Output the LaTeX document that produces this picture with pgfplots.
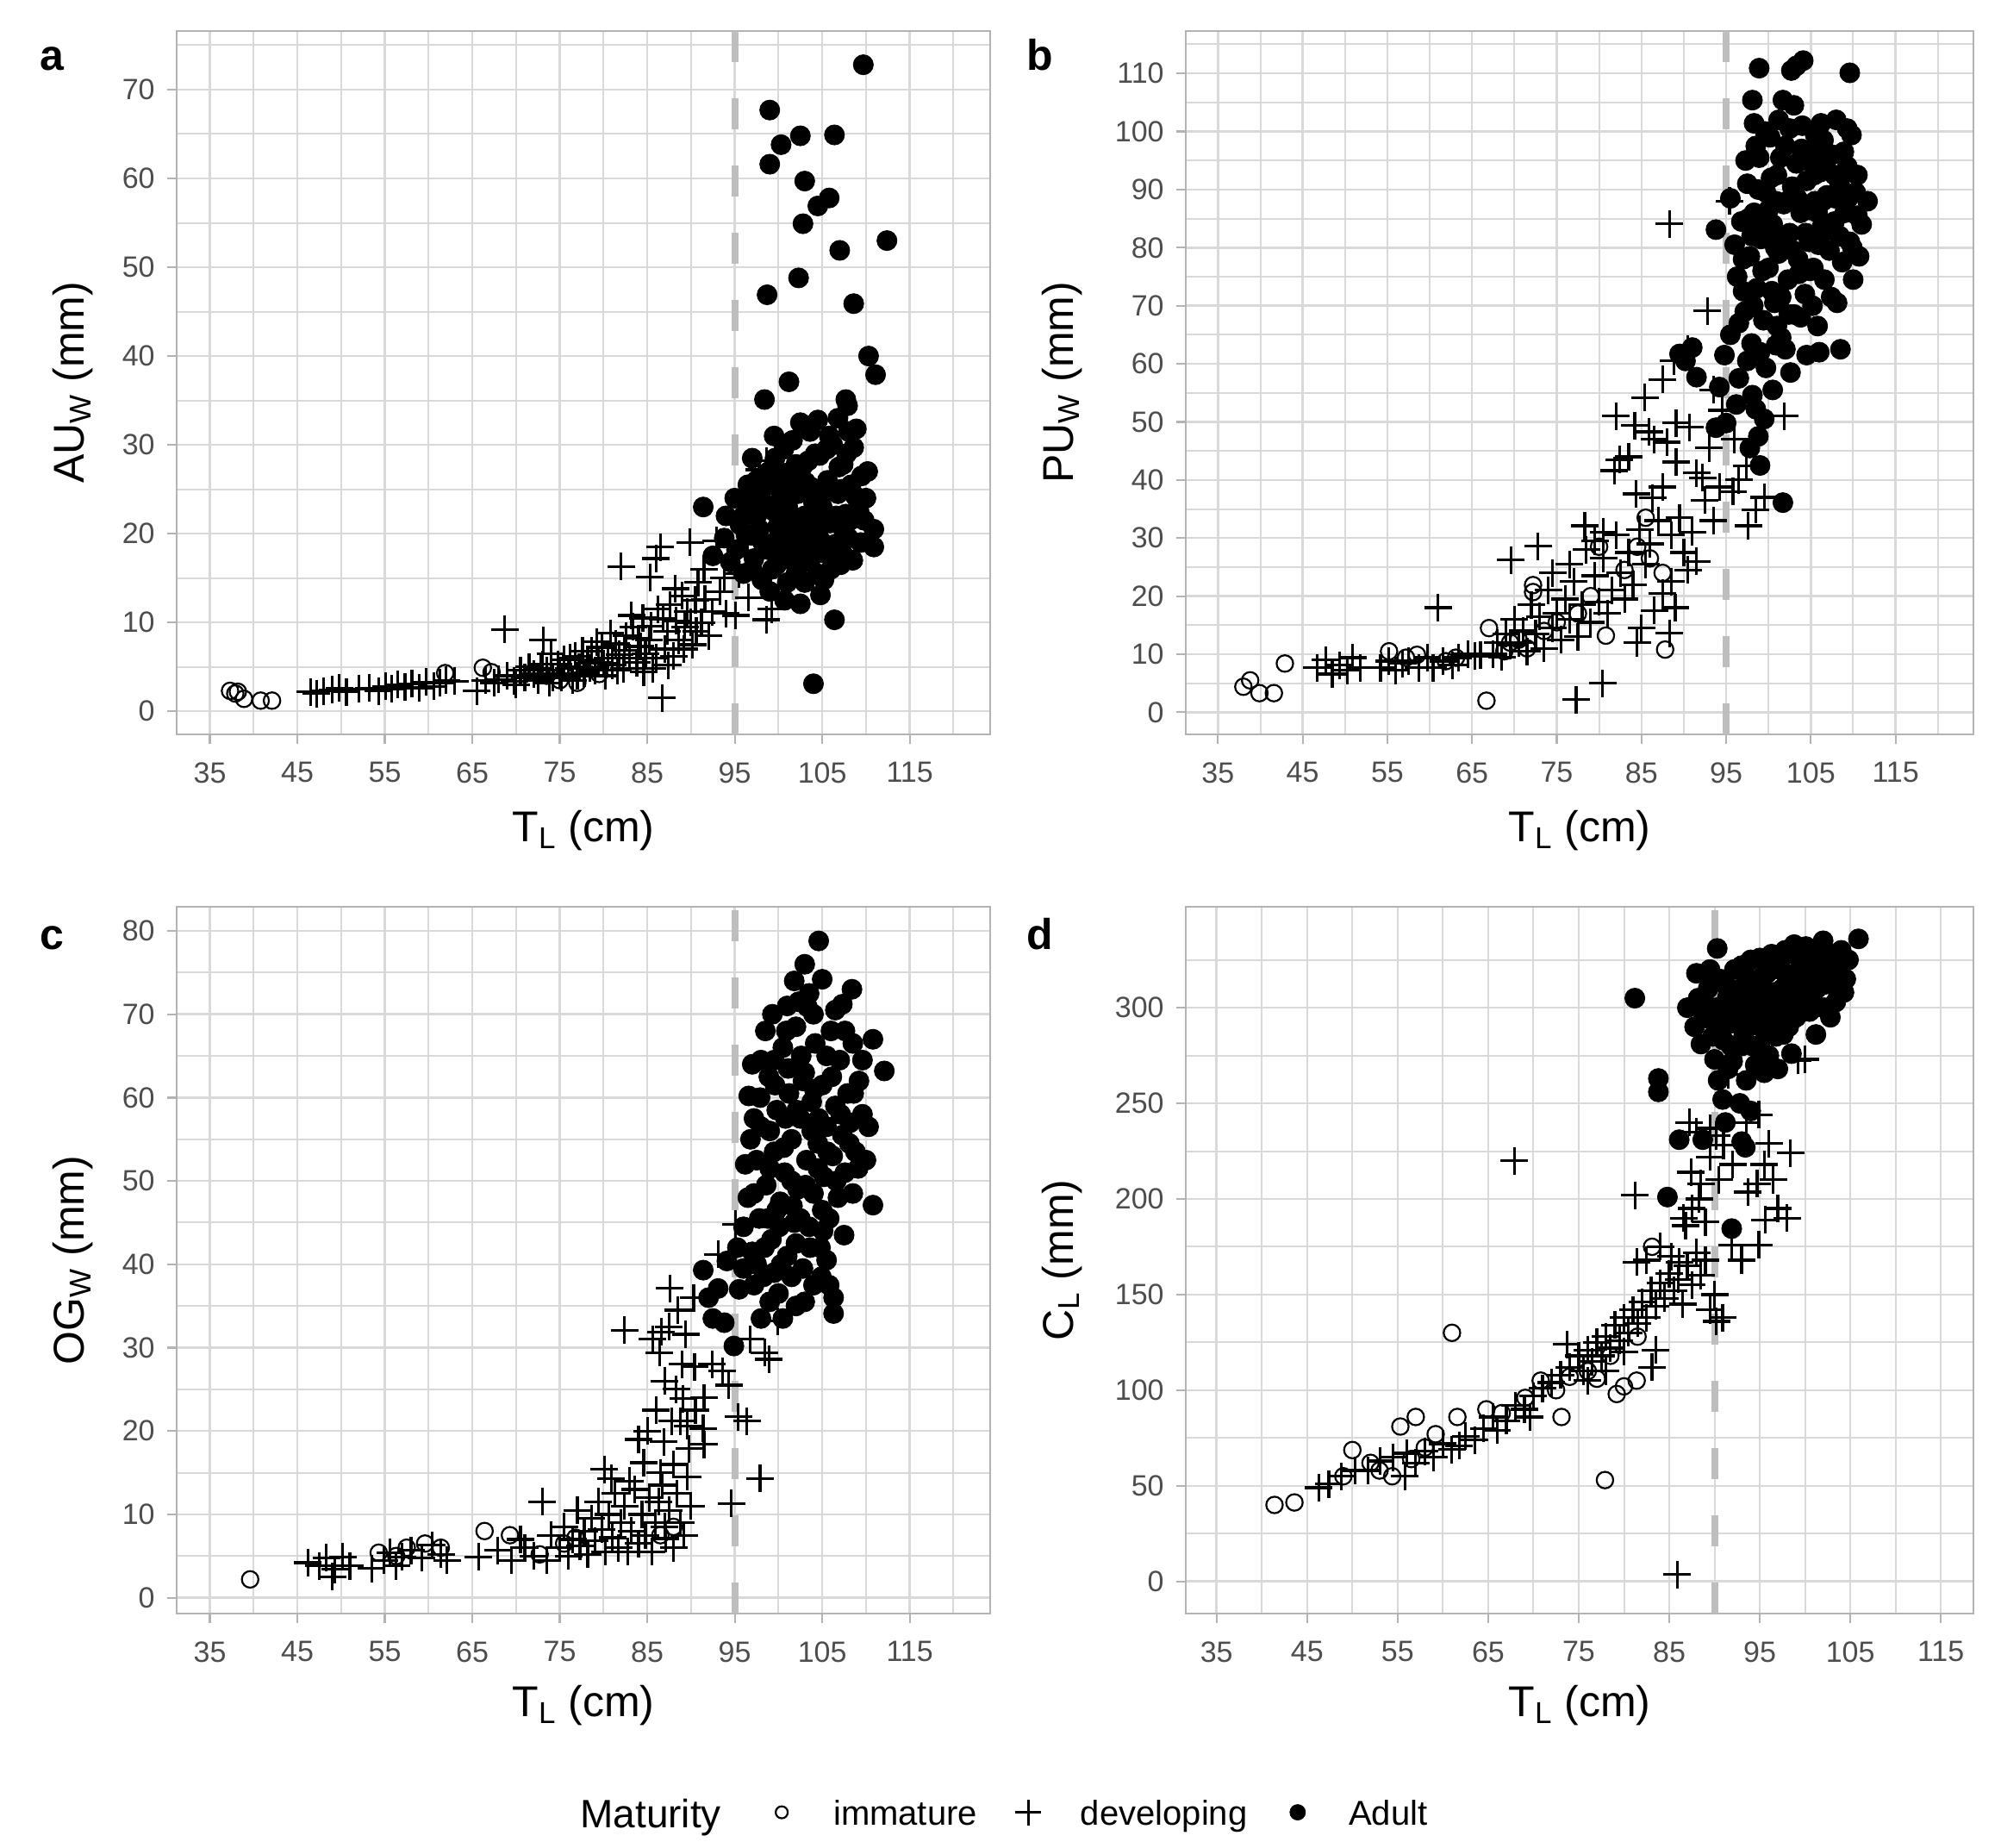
\documentclass[border=0pt]{standalone}
\usepackage{fontspec}
\setmainfont{Liberation Sans}
\usepackage{pgfplots}
\pgfplotsset{compat=1.18}
\definecolor{ticktext}{HTML}{4D4D4D}
\definecolor{bordergrey}{HTML}{B3B3B3}
\definecolor{gridgrey}{HTML}{D9D9D9}
\definecolor{dashgrey}{HTML}{BEBEBE}
\pgfplotsset{
  panel/.style={
    scale only axis, anchor=south west,
    axis line style={draw=bordergrey, line width=1.2pt},
    tick style={draw=bordergrey, line width=1.1pt},
    tick align=outside, tick pos=left,
    major tick length=5.5pt, minor tick length=0pt,
    grid=both,
    major grid style={draw=gridgrey, line width=1.25pt},
    minor grid style={draw=gridgrey, line width=1.0pt},
    ticklabel style={font=\fontsize{17}{20}\selectfont, text=ticktext},
    xticklabel style={anchor=north, inner sep=0pt, yshift=-10.5pt},
    yticklabel style={anchor=east, inner sep=0pt, xshift=-7pt},
    label style={font=\fontsize{25}{30}\selectfont},
    /pgf/number format/assume math mode=true,
    xtick={35,45,...,115}, minor xtick={40,50,...,120},
  },
  imm/.style={only marks, mark=o, mark size=4.8pt, line width=1.1pt, draw=black},
  dev/.style={only marks, mark=+, mark size=8pt, line width=1.6pt, draw=black},
  adu/.style={only marks, mark=*, mark size=5.8pt, draw=black, fill=black},
  vl/.style={draw=dashgrey, line width=4pt, dash pattern=on 18pt off 21pt, forget plot},
}
\begin{document}
\begin{tikzpicture}
\useasboundingbox (0,0) rectangle (1161pt,1071.5pt);
% ---------------- panel a
\begin{axis}[panel, at={(102.5pt,645.5pt)}, width=472pt, height=408pt,
  xmin=31.2, xmax=124.2, ymin=-2.6, ymax=76.6,
  ytick={0,10,...,70}, minor ytick={5,15,...,75},
  xlabel={T\textsubscript{L} (cm)}, ylabel={AU\textsubscript{W} (mm)},
  xlabel style={at={(axis description cs:0.5,-0.1373)}, anchor=center},
  ylabel style={at={(axis description cs:-0.1271,0.5)}, anchor=center}]
\addplot[adu] coordinates {
(109.7,72.8)(99.0,67.7)(102.5,64.8)(100.3,63.8)(106.4,64.9)(99.0,61.6)(103.0,59.7)(104.5,56.9)(105.8,57.8)(102.8,54.9)
(107.0,51.9)(112.4,53.0)(102.3,48.8)(98.7,46.9)(108.6,45.9)(110.3,40.0)(111.1,37.9)(101.2,37.1)(98.4,35.1)(107.7,35.1)
(91.4,23.0)(92.5,17.5)(93.8,19.5)(94.5,16.8)(95.2,18.2)(95.6,21)(96,15.5)(96.3,19.8)(96.8,23.5)(97.2,17.2)(97.5,26)
(97.8,20.5)(98.1,14.8)(98.4,22.8)(98.8,18.2)(99,25.5)(99.3,16.0)(99.6,28.5)(99.9,20.8)(100.2,23.8)(100.5,17.5)
(100.8,26.8)(101,14.5)(101.3,21.5)(101.6,30.5)(101.9,19.0)(102.2,24.5)(102.4,16.5)(102.7,27.5)(103,22.0)(103.3,18.5)
(103.6,31.5)(103.8,25.2)(104.1,20.0)(104.4,15.5)(104.7,28.8)(105,23.0)(105.3,17.8)(105.6,26.0)(105.9,21.2)(106.2,30.0)
(106.5,18.8)(106.8,24.5)(107.1,16.5)(107.4,27.8)(107.7,22.2)(108,19.5)(108.3,25.5)(108.6,29.7)(108.9,31.8)(109.2,22.6)
(109.5,26.5)(110,24.0)(110.9,20.5)(110.9,18.5)(107.9,34.4)(106.8,33.0)(102.5,32.5)(99.5,31.0)(100,19.5)(101,24.8)
(102,27.8)(103.5,20.8)(104,23.5)(105,19.0)(103,14.5)(100.7,12.5)(102.5,12.1)(104.8,13.1)(106.4,10.3)(104,3.1)
(97,19.8)(98,24)(96,22.0)(105.5,29.5)(104.5,32.8)(101.5,17.0)(99.8,16.5)(107.5,20.0)(108.5,17.0)
(97.5,22.0)(98.2,19.0)(98.9,27.0)(99.5,22.5)(100.1,18.0)(100.6,29.5)(101.1,22.8)(101.7,26.0)(102.0,15.5)(102.6,20.5)
(103.1,25.8)(103.7,17.2)(104.2,29.0)(104.9,21.8)(105.4,24.8)(106.0,16.0)(106.6,22.0)(107.2,25.0)(107.8,29.0)(108.2,21.5)
(108.8,24.2)(109.8,21.5)(110.2,27.0)(96.5,25.5)(97.0,28.5)(99.0,13.5)(100.0,26.0)(101.0,20.0)(102.2,18.2)(103.4,28.2)
(104.6,19.6)(105.8,31.0)(106.9,27.5)(108.0,31.5)(109.4,19.0)(95.0,24.0)(94.0,22.0)(97.0,16.0)(105.2,14.8)(107.5,17.5)
};
\addplot[dev] coordinates {
(46.5,2.2)(47.2,2.0)(48,2.3)(49,2.4)(49.8,2.6)(50.6,2.2)(52,2.5)(53.2,2.6)(54.3,2.3)(55.1,2.8)(55.8,2.5)(56.5,3.0)
(57.3,2.7)(58.1,3.1)(58.9,2.6)(59.7,3.3)(60.6,2.8)(61.3,3.2)(62,3.5)(65.5,2.3)(66.5,3.5)(67.5,3.2)(68.7,9.2)(69,4.0)
(69.8,3.4)(70.5,4.6)(71,3.8)(71.5,5.0)(72,4.2)(72.5,3.5)(73,5.3)(73.1,8.0)(73.5,4.6)(74,6.5)(74.2,3.8)(74.8,5.3)
(75,4.2)(75.5,5.8)(76,4.8)(76.5,3.5)(76.8,6.2)(77.2,5.0)(77.8,4.3)(78.2,5.8)(78.6,6.8)(79,4.6)(79.4,5.5)(79.8,7.2)
(80.2,4.0)(80.5,6.0)(81,5.2)(81.4,7.6)(81.8,6.4)(82,16.3)(82.3,4.8)(82.6,8.5)(83,6.0)(83.4,9.5)(83.8,5.5)(84.2,7.3)
(84.5,10.5)(84.8,6.5)(85.2,8.0)(85.3,15.1)(85.6,4.8)(86,17.2)(86.2,11.5)(86.5,18.5)(86.7,1.5)(87,7.0)(87.3,9.0)
(87.6,12.0)(88,6.2)(88.3,10.2)(88.6,8.0)(89,13.0)(89.3,9.5)(89.6,11.2)(89.9,19.0)(90.2,7.5)(90.5,12.5)(90.8,14.5)
(91.2,10.0)(91.5,16.0)(92,8.5)(92.9,19.2)(93.3,13.5)(94,11.0)(95.1,10.8)(96.6,12.8)(97.8,27.2)(98.6,28.2)(98.6,10.3)
(99.2,11.5)(95.5,15.5)(96.5,17.5)
(75.2,3.8)(76.2,6.0)(77.0,4.0)(77.6,6.8)(78.4,4.9)(79.2,7.8)(80.0,5.4)(80.8,8.8)(81.6,4.6)(82.4,6.9)
(83.2,10.8)(84.0,8.2)(84.6,4.4)(85.4,9.6)(86.0,6.0)(86.8,10.4)(87.4,5.2)(88.2,13.8)(89.2,7.0)(90.0,10.0)
(90.6,9.0)(91.6,12.6)(92.4,11.2)(93.8,15.0)(94.5,18.5)(72.8,4.8)(73.8,3.2)(70.0,3.0)(68.0,3.6)(63.0,3.4)
};
\addplot[imm] coordinates {
(37.3,2.3)(37.9,2.0)(38.2,2.2)(38.9,1.4)(40.8,1.2)(42.1,1.2)(61.9,4.3)(66.2,4.9)(67.2,4.4)(73.5,4.0)(75,3.5)(77,3.2)(79.5,4.2)
};
\addplot[vl] coordinates {(95,-2.6)(95,76.6)};
\end{axis}
% ---------------- panel b
\begin{axis}[panel, at={(688pt,645.5pt)}, width=457pt, height=408pt,
  xmin=31.2, xmax=124.2, ymin=-3.8, ymax=117.3,
  ytick={0,10,...,110}, minor ytick={5,15,...,115},
  xlabel={T\textsubscript{L} (cm)}, ylabel={PU\textsubscript{W} (mm)},
  xlabel style={at={(axis description cs:0.5,-0.1373)}, anchor=center},
  ylabel style={at={(axis description cs:-0.1575,0.5)}, anchor=center}]
\addplot[adu] coordinates {
(98.9,110.9)(102.7,110.5)(104.1,112.2)(103.3,111.3)(109.6,110.1)(98.1,105.4)(101.7,105.4)(98.3,101.4)(106.2,101.4)(109.8,99.4)
(111.7,88.0)(93.8,83.1)(106.0,62.0)(101.7,36.1)(95.5,88.5)(96.0,80.5)(96.3,75.0)(96.8,84.5)(97.2,69.0)(97.5,91.0)
(97.8,78.5)(98.0,63.5)(98.3,86.0)(98.6,73.0)(98.9,95.5)(99.1,81.5)(99.4,67.5)(99.7,89.5)(100.0,76.5)(100.2,99.0)
(100.5,84.0)(100.7,70.5)(101.0,92.5)(101.2,79.0)(101.5,64.5)(101.8,87.5)(102.0,97.5)(102.3,74.5)(102.5,82.5)(102.8,90.5)
(103.0,68.5)(103.3,94.5)(103.5,78.0)(103.8,86.0)(104.0,101.0)(104.3,72.0)(104.5,91.5)(104.8,81.0)(105.0,96.5)(105.3,76.5)
(105.5,88.0)(105.8,66.5)(106.1,93.0)(106.3,83.5)(106.6,74.5)(106.9,89.0)(107.2,79.5)(107.5,96.0)(107.8,84.5)(108.1,70.5)
(108.4,91.0)(108.7,77.5)(109.0,86.0)(109.3,94.0)(109.6,81.0)(110.0,74.5)(110.3,89.5)(110.7,78.5)(111.0,84.0)(108.5,62.5)
(104.5,61.5)(102.6,58.5)(100.9,63.2)(99.7,59.3)(98.1,54.6)(98.5,52.2)(95.0,49.8)(93.8,49.0)(94.2,56.0)(91.5,57.7)
(89.5,61.7)(90.2,60.5)(91.0,62.8)(97.5,60.5)(96.5,57.5)(99.5,50.5)(98.8,47.5)(100.5,55.5)(95.5,65.0)(94.8,61.5)
(101.5,71.5)(99.2,84.0)(97.0,72.5)(102.2,88.0)(103.6,75.5)(105.2,70.0)(106.5,98.5)(107.8,92.5)(100.3,92.0)(98.5,97.5)
(101.2,102.0)(103.0,104.5)(105.5,99.5)(109.3,100.5)(110.5,92.5)(108.0,102.0)(104.8,86.5)(100.8,80.0)(96.2,53.0)(97.8,45.5)
(99.0,42.5)
(97.0,78.0)(97.6,85.0)(98.2,70.0)(98.8,90.0)(99.3,76.0)(99.9,83.0)(100.4,72.5)(100.9,88.0)(101.4,95.5)(101.9,82.0)
(102.4,68.5)(102.9,79.5)(103.4,88.5)(103.9,97.0)(104.4,82.5)(104.9,76.0)(105.4,92.5)(105.9,80.5)(106.4,88.0)(106.9,95.5)
(107.4,71.5)(107.9,88.5)(108.4,82.0)(108.9,96.5)(109.4,88.5)(109.9,80.0)(110.5,85.5)(96.5,67.0)(97.3,95.0)(99.6,100.0)
(102.5,100.5)(104.6,95.0)(103.8,68.0)(101.0,66.5)(99.0,62.0)(102.0,62.5)(105.8,86.0)(107.0,83.0)(100.0,86.5)(98.0,82.0)
};
\addplot[dev] coordinates {
(88.3,84.1)(95.4,88.0)(92.8,69.1)(87.5,57.3)(85.4,54.2)(82.0,51.0)(84.2,49.4)(85.9,48.3)(89.1,49.8)(90.7,49.1)
(81.8,41.6)(82.4,43.5)(84.4,37.6)(89.1,43.1)(91.5,41.2)(94.2,38.8)(97.4,42.4)(101.9,51.0)(98.5,34.9)(97.6,32.1)
(92.2,40.4)(95.8,38.0)(87.5,38.8)(86.3,36.9)(78.3,32.1)(72.8,28.6)(69.6,26.2)(80.4,5.0)(77.3,2.2)(88.3,13.6)
(65.3,9.7)(61.0,18.0)(88.8,60.5)(90.5,62.5)(93.5,55.5)(94.5,52.0)(96.0,47.0)(93.0,45.5)(88.0,46.5)(86.5,47.0)
(83.5,44.0)(88.5,30.5)(89.5,33.5)(90.0,27.5)(91.0,31.0)(90.5,24.5)(87.0,33.0)(86.0,29.0)(85.5,25.5)(84.8,31.5)
(84.0,22.0)(83.5,27.5)(83.0,19.5)(82.5,24.0)(82.0,30.5)(81.5,21.0)(81.0,17.0)(80.5,26.5)(80.0,19.0)(79.5,23.5)
(79.0,15.5)(78.5,28.0)(78.0,18.5)(77.5,13.0)(77.0,22.5)(76.5,16.0)(76.0,19.5)(75.5,12.5)(75.0,17.0)(74.5,14.5)
(74.0,21.0)(73.5,11.0)(73.0,16.5)(72.5,13.5)(72.0,18.5)(71.5,10.5)(71.0,14.0)(70.5,12.0)(70.0,16.0)(69.5,11.5)
(69.0,13.5)(68.5,9.5)(68.0,12.0)(67.5,10.0)(66.0,9.9)(87.5,20.5)(88.5,22.5)(89.0,18.0)(86.5,17.5)(85.0,14.5)
(84.5,12.0)(91.5,26.0)(92.5,36.5)(93.5,33.0)(79.5,29.5)(80.5,31.0)(76.5,25.5)(74.5,24.0)(96.5,40.0)(99.5,37.0)
(46.7,7.7)(47.7,9.0)(48.5,6.6)(49.4,8.1)(50.3,7.2)(50.9,9.4)(51.8,7.7)(54.2,7.7)(55.2,8.8)(56.0,7.2)
(56.8,8.4)(57.5,8.8)(58.7,7.7)(59.7,9.4)(60.4,7.7)(61.6,8.8)(62.7,8.1)(63.4,9.4)(64.5,10.0)
};
\addplot[imm] coordinates {
(38.0,4.4)(38.8,5.5)(39.9,3.3)(41.6,3.3)(42.9,8.4)(55.2,10.5)(57.2,9.4)(58.5,9.9)(61.9,8.8)(63.1,9.4)
(66.7,2.0)(87.8,10.8)(72.2,21.9)(72.2,20.7)(67.0,14.5)(80.8,13.2)(68.8,10.5)(70.5,12.5)(73.5,14.0)(75.0,15.5)
(77.5,17.0)(79.0,20.0)(83.0,24.5)(84.5,28.5)(86.0,26.5)(87.5,24.0)(85.5,33.5)(80.0,28.5)(69.5,12.0)(71.5,11.0)
};
\addplot[vl] coordinates {(95,-3.8)(95,117.3)};
\end{axis}
% ---------------- panel c
\begin{axis}[panel, at={(102.5pt,135.5pt)}, width=472pt, height=410pt,
  xmin=31.2, xmax=124.2, ymin=-1.9, ymax=82.9,
  ytick={0,10,...,80}, minor ytick={5,15,...,75},
  xlabel={T\textsubscript{L} (cm)}, ylabel={OG\textsubscript{W} (mm)},
  xlabel style={at={(axis description cs:0.5,-0.1305)}, anchor=center},
  ylabel style={at={(axis description cs:-0.1271,0.5)}, anchor=center},
  legend columns=-1,
  legend style={at={(axis description cs:0.7172,-0.2812)}, anchor=west, draw=none, fill=none,
    inner sep=0pt, outer sep=0pt, column sep=0pt,
    font=\fontsize{20}{24}\selectfont,
    /tikz/every even column/.append style={column sep=15pt}},
  legend image code/.code={\path (0pt,-4pt) (39.5pt,4pt); \draw[#1] plot coordinates {(12pt,0pt)};}]
\addlegendimage{only marks, mark=o, mark size=3.5pt, line width=1.1pt, draw=black}
\addlegendentry{\strut immature}
\addlegendimage{only marks, mark=+, mark size=7.5pt, line width=1.5pt, draw=black}
\addlegendentry{\strut developing}
\addlegendimage{only marks, mark=*, mark size=4.5pt, draw=black, fill=black}
\addlegendentry{\strut Adult}
\addplot[adu, forget plot] coordinates {
(104.6,78.8)(105.0,74.2)(108.4,73.0)(107.3,71.2)(103.3,70.9)(110.8,67.0)(112.1,63.2)(96.6,60.2)(110.8,47.1)(104.9,38.5)
(106.3,36.0)(106.3,34.1)(91.4,39.3)(94.9,30.2)(94.1,40.4)(93.1,37.1)(93.8,33.0)(96.0,44.5)(96.5,48.0)(97.0,41.5)
(97.5,52.5)(97.8,45.5)(98.0,56.5)(98.3,38.5)(98.6,49.5)(98.9,62.5)(99.2,43.0)(99.5,53.5)(99.8,58.5)(100.0,36.5)
(100.2,47.5)(100.5,66.0)(100.7,51.0)(101.0,41.0)(101.2,60.5)(101.5,55.0)(101.8,45.0)(102.0,68.5)(102.2,49.0)(102.5,57.5)
(102.8,39.5)(103.0,63.0)(103.2,52.5)(103.5,44.5)(103.8,59.5)(104.0,48.5)(104.2,66.5)(104.5,54.5)(104.8,42.0)(105.0,61.5)
(105.2,50.5)(105.5,56.5)(105.8,45.5)(106.0,68.0)(106.2,53.0)(106.5,59.0)(106.8,48.0)(107.0,64.5)(107.3,55.5)(107.6,51.0)
(107.9,60.5)(108.2,57.0)(108.5,66.5)(108.8,53.5)(109.2,62.0)(109.6,58.0)(110.0,52.5)(102.0,35.0)(100.5,33.5)(99.0,35.5)
(98.0,33.5)(97.2,37.5)(95.5,37.0)(95.3,42.0)(96.2,52.0)(99.5,64.5)(101.0,71.0)(101.8,74.0)(103.5,72.5)(100.3,40.0)
(104.0,37.5)(105.5,40.5)(107.5,43.5)(106.5,70.5)(105.5,65.0)(103.0,76.0)(98.5,68.0)(97.0,64.0)(99.0,56.0)(100.8,57.5)
(102.5,45.5)(104.5,51.5)(101.5,50.0)(103.8,56.0)(99.8,46.5)(97.2,57.5)(108.5,48.5)(105.0,46.5)(102.8,62.0)(92.0,36.0)
(92.5,33.5)
(97.2,48.5)(97.9,60.0)(98.4,42.0)(99.0,51.5)(99.6,61.5)(100.1,44.5)(100.6,54.0)(101.1,63.5)(101.6,47.0)(102.1,58.5)
(102.6,65.0)(103.1,49.5)(103.6,42.0)(104.1,61.0)(104.6,57.5)(105.1,44.0)(105.6,53.5)(106.1,62.5)(106.6,50.0)(107.1,58.0)
(107.6,68.0)(108.1,54.5)(108.6,60.5)(109.1,51.5)(109.6,64.5)(110.3,56.5)(96.8,55.0)(98.0,64.5)(99.3,70.0)(100.9,68.0)
(102.3,71.5)(104.0,70.0)(97.5,40.0)(99.5,39.0)(101.5,38.5)(103.0,35.5)(96.0,39.5)(98.8,45.5)(105.8,37.5)(102.0,42.5)
};
\addplot[dev, forget plot] coordinates {
(95.1,44.8)(93.1,41.2)(87.6,37.1)(90.3,36.0)(82.4,32.1)(85.6,31.0)(86.6,31.9)(86.4,29.4)(89.4,31.6)(92.4,28.0)
(93.6,27.2)(94.3,25.5)(90.4,27.7)(99.9,33.2)(98.4,29.4)(98.9,28.6)(96.8,31.0)(88.3,25.0)(89.1,23.9)(88.8,21.2)
(89.6,20.6)(87.8,21.2)(91.4,20.3)(91.5,18.4)(95.4,21.7)(96.4,21.2)(86.9,18.7)(89.8,17.9)(97.9,14.3)(94.6,11.3)
(84.6,16.2)(80.1,15.4)(80.9,14.3)(87.1,7.1)(75.0,6.0)(75.5,8.5)(76.0,5.0)(76.5,7.0)(77.0,10.5)(77.3,6.2)
(77.8,8.0)(78.2,5.2)(78.6,9.5)(79.0,6.8)(79.4,11.5)(79.8,8.2)(80.2,5.5)(80.6,10.0)(81.0,7.2)(81.3,12.5)
(81.7,6.0)(82.0,9.0)(82.4,11.0)(82.8,5.5)(83.2,8.0)(83.6,13.0)(84.0,6.5)(84.4,10.0)(84.8,7.5)(85.2,12.0)
(85.5,5.5)(85.9,9.0)(86.3,11.5)(86.7,13.5)(87.0,8.5)(87.5,10.5)(88.0,6.0)(88.4,12.5)(88.8,9.0)(89.2,7.5)
(89.6,14.5)(90.0,11.0)(73.0,11.5)(74.0,7.5)(73.5,4.5)(71.0,6.0)(72.0,5.0)(69.5,4.5)(67.9,5.7)(65.7,4.9)
(70.5,7.0)(46.2,4.2)(47.5,3.8)(48.3,4.8)(49.3,3.4)(50.2,4.9)(51.0,3.8)(54.9,4.5)(55.6,5.4)(56.3,3.8)
(57.0,4.9)(58.0,5.7)(59.2,4.8)(60.4,6.3)(61.4,5.2)(62.1,4.5)(49.0,2.5)(53.5,3.5)(86.0,22.5)(87.0,26.0)
(88.0,16.0)(85.0,20.0)(84.0,19.0)(83.0,14.0)(86.5,15.0)(89.0,28.0)(90.5,22.5)(88.5,34.5)(87.5,32.5)(91.5,24.0)
};
\addplot[imm, forget plot] coordinates {
(39.6,2.2)(57.5,6.0)(59.6,6.5)(61.4,6.0)(54.3,5.4)(56.3,5.0)(66.4,8.0)(69.3,7.5)(72.7,5.2)(75.5,6.5)(76.8,7.2)(86.5,7.5)(88.0,8.5)
};
\addplot[vl] coordinates {(95,-1.9)(95,82.9)};
\end{axis}
% ---------------- panel d
\begin{axis}[panel, at={(688pt,135.5pt)}, width=457pt, height=410pt,
  xmin=31.6, xmax=118.6, ymin=-16.8, ymax=352.8,
  minor xtick={40,50,...,110},
  ytick={0,50,...,300}, minor ytick={25,75,...,325},
  xlabel={T\textsubscript{L} (cm)}, ylabel={C\textsubscript{L} (mm)},
  xlabel style={at={(axis description cs:0.5,-0.1305)}, anchor=center},
  ylabel style={at={(axis description cs:-0.1575,0.5)}, anchor=center}]
\addplot[adu] coordinates {
(90.3,331)(105.9,336)(81.2,305)(83.8,263)(83.8,256)(88.5,281)(101.2,286)(91.9,184.5)(84.8,201)(93.4,227)
(86.1,231)(88.7,231)(90.4,262)(90.9,252)(87.0,300)(87.8,290)(88.2,305)(88.8,295)(89.3,310)(89.8,285)
(90.2,300)(90.6,315)(91.0,290)(91.4,305)(91.8,280)(92.2,320)(92.5,295)(92.9,310)(93.2,285)(93.6,300)
(94.0,325)(94.3,292)(94.7,312)(95.0,280)(95.4,302)(95.8,318)(96.1,290)(96.5,308)(96.9,298)(97.2,322)
(97.6,286)(98.0,312)(98.3,302)(98.7,328)(99.0,295)(99.4,316)(99.8,305)(100.1,332)(100.5,298)(100.9,320)
(101.3,310)(101.7,330)(102.1,300)(102.5,322)(103.0,312)(103.4,303)(103.8,318)(104.3,308)(91.5,268)(92.0,272)
(93.5,262)(94.5,270)(95.5,266)(96.0,275)(92.8,250)(91.2,240)(94.0,246)(97.0,268)(98.5,276)(93.0,230)
(96.0,305)(94.8,295)(92.0,308)(99.5,322)(100.0,315)(97.8,330)(98.8,333)(95.0,326)(96.8,285)(101.0,300)
(102.8,295)(104.8,325)(102.0,335)(101.0,327)(89.5,320)(88.0,318)(97.5,310)(93.8,315)(90.0,273)
(89.0,302)(89.8,314)(90.5,292)(91.2,312)(91.8,298)(92.5,306)(93.0,322)(93.8,290)(94.5,304)(95.2,316)
(95.8,296)(96.4,320)(97.0,302)(97.8,318)(98.2,290)(99.0,308)(99.8,325)(100.5,310)(101.2,318)(102.0,312)
(102.6,328)(103.4,322)(104.0,330)(93.0,280)(95.5,288)(98.5,298)(100.8,305)(96.3,328)(94.2,280)(92.0,292)
(91.0,283)(97.5,292)(99.5,300)(103.0,320)(104.5,315)
};
\addplot[dev] coordinates {
(67.9,220)(85.9,3.6)(81.2,202)(87.2,240)(94.9,244)(99.2,272.6)(98.4,224)(96.0,229)(94.7,208)(93.7,203.6)
(95.6,189)(94.9,176)(91.9,176)(90.2,233)(90.9,138)(90.0,150)(87.4,214)(88.3,200)(86.6,190)(86.1,167)
(81.4,167)(83.5,121)(83.1,112)(73.7,124)(69.6,86)(66.0,79)(61.8,71)(55.8,55)(46.3,49)(47.4,51)
(48.8,55)(50.3,58)(51.7,58)(53.1,63)(54.5,65)(56.0,67)(57.0,62)(58.0,68)(59.0,65)(60.0,72)
(61.0,69)(62.5,76)(63.5,74)(64.5,80)(65.5,86)(67.0,84)(68.0,92)(69.0,90)(70.0,97)(71.0,101)
(72.0,104)(73.0,108)(74.0,112)(75.0,118)(75.5,110)(76.0,121)(76.5,115)(77.0,125)(77.5,118)(78.0,128)
(78.5,122)(79.0,134)(79.5,126)(80.0,138)(80.5,130)(81.0,142)(81.5,135)(82.0,146)(82.5,138)(83.0,152)
(83.5,144)(84.0,156)(84.5,148)(85.0,161)(85.5,152)(86.0,158)(86.5,145)(87.0,165)(87.5,155)(88.0,172)
(88.5,160)(89.0,168)(89.5,142)(90.2,136)(85.2,170)(84.0,175)(82.5,168)(86.8,186)(87.5,195)(88.5,208)
(89.5,222)(89.0,188)(90.5,210)(91.0,228)(92.0,218)(93.5,240)(95.5,218)(96.5,210)(97.0,195)(100.0,273)
(88.0,235)(89.5,237)(91.5,265)(92.5,288)(90.0,290)(98.0,190)(93.0,168)(76.0,105)(80.0,120)(78.0,110)
};
\addplot[imm] coordinates {
(61.0,130)(77.9,53)(61.6,86)(64.8,90)(66.5,88)(59.2,77)(69.1,96)(70.8,105)(81.4,105)(79.2,98)
(83.1,175)(54.4,55)(41.4,40)(43.6,41.3)(50.0,68.7)(55.3,81)(57.0,86)(49.0,55)(52.0,62)(53.0,58)
(56.5,64)(58.0,70)(72.5,100)(74.0,107)(76.0,110)(78.5,118)(80.0,102)(81.5,128)(77.0,106)(73.1,86)
};
\addplot[vl] coordinates {(90,-16.8)(90,352.8)};
\end{axis}
% ---------------- panel letters and legend title
\node[font=\fontsize{25}{30}\selectfont\bfseries, anchor=base] at (30pt,1030.5pt) {a};
\node[font=\fontsize{25}{30}\selectfont\bfseries, anchor=base] at (603.5pt,1030.5pt) {b};
\node[font=\fontsize{25}{30}\selectfont\bfseries, anchor=base] at (30pt,520.5pt) {c};
\node[font=\fontsize{25}{30}\selectfont\bfseries, anchor=base] at (603.5pt,520.5pt) {d};
\node[font=\fontsize{23}{27}\selectfont, anchor=base west, inner sep=0pt] at (336.5pt,11.5pt) {Maturity};
\end{tikzpicture}
\end{document}
